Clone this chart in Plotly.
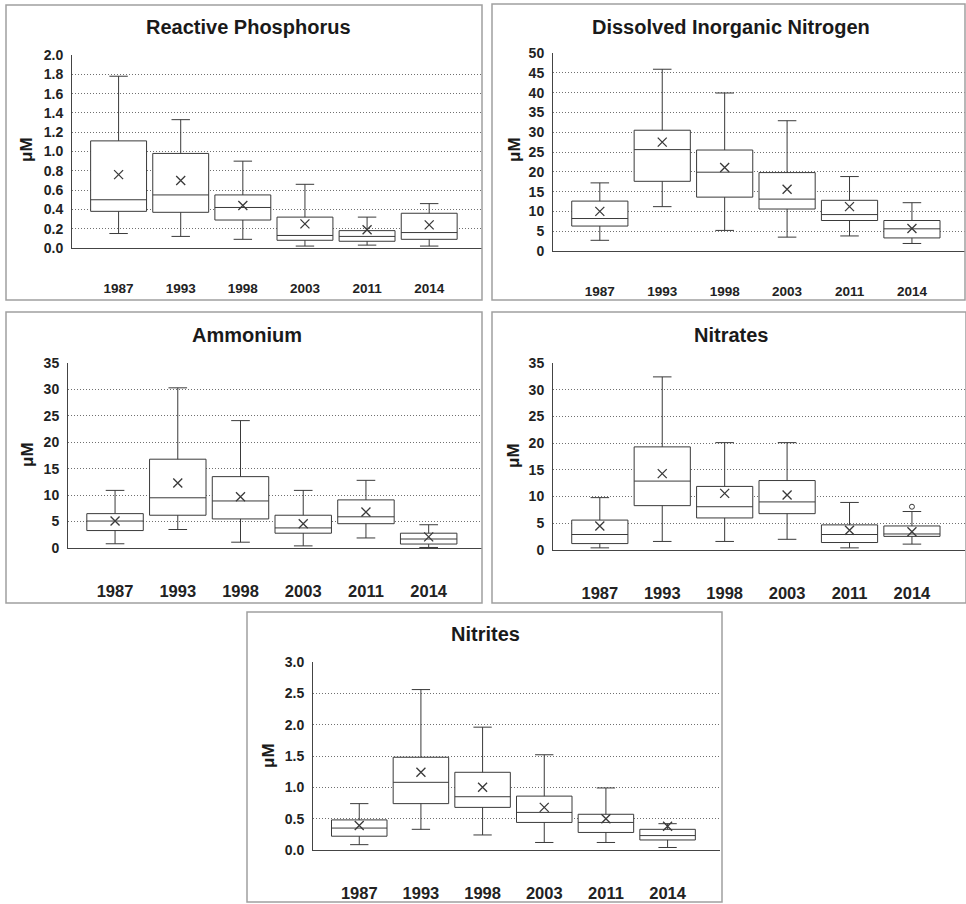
import plotly.graph_objects as go

years = ["1987", "1993", "1998", "2003", "2011", "2014"]

# Reactive Phosphorus (uM)
rp_low = [0.15, 0.12, 0.09, 0.02, 0.03, 0.02]
rp_q1 = [0.38, 0.37, 0.29, 0.08, 0.07, 0.09]
rp_med = [0.50, 0.55, 0.42, 0.13, 0.12, 0.16]
rp_q3 = [1.11, 0.98, 0.55, 0.32, 0.18, 0.36]
rp_high = [1.78, 1.33, 0.90, 0.66, 0.32, 0.46]
rp_mean = [0.76, 0.70, 0.44, 0.25, 0.19, 0.24]

# Dissolved Inorganic Nitrogen
din_low = [2.7, 11.2, 5.2, 3.5, 3.8, 1.9]
din_q1 = [6.3, 17.6, 13.6, 10.6, 7.7, 3.3]
din_med = [8.2, 25.6, 19.9, 13.1, 9.2, 5.6]
din_q3 = [12.6, 30.5, 25.5, 19.8, 12.8, 7.7]
din_high = [17.2, 45.9, 39.9, 32.9, 18.8, 12.2]
din_mean = [10.0, 27.5, 21.1, 15.6, 11.2, 5.7]

# Ammonium
nh4_low = [0.8, 3.5, 1.1, 0.4, 1.9, 0.1]
nh4_q1 = [3.3, 6.2, 5.5, 2.8, 4.6, 0.75]
nh4_med = [5.1, 9.5, 8.9, 3.8, 5.9, 1.7]
nh4_q3 = [6.5, 16.8, 13.5, 6.2, 9.1, 2.8]
nh4_high = [10.9, 30.3, 24.1, 10.9, 12.8, 4.4]
nh4_mean = [5.1, 12.3, 9.7, 4.6, 6.8, 2.1]

# Nitrates
no3_low = [0.4, 1.6, 1.6, 2.0, 0.4, 1.1]
no3_q1 = [1.2, 8.3, 6.0, 6.8, 1.4, 2.55]
no3_med = [2.9, 12.9, 8.1, 9.0, 2.9, 3.0]
no3_q3 = [5.6, 19.3, 11.9, 13.0, 4.7, 4.5]
no3_high = [9.8, 32.4, 20.1, 20.1, 8.9, 7.2]
no3_mean = [4.5, 14.3, 10.6, 10.3, 3.7, 3.4]
no3_outlier_year = ["2014"]
no3_outlier = [8.1]

# Nitrites
no2_low = [0.085, 0.33, 0.24, 0.12, 0.12, 0.04]
no2_q1 = [0.22, 0.74, 0.68, 0.44, 0.28, 0.16]
no2_med = [0.35, 1.08, 0.85, 0.60, 0.44, 0.23]
no2_q3 = [0.48, 1.48, 1.24, 0.86, 0.57, 0.33]
no2_high = [0.74, 2.56, 1.96, 1.52, 0.99, 0.42]
no2_mean = [0.39, 1.24, 1.00, 0.68, 0.50, 0.38]

W, H = 966, 904
def fx(p):
    return p / W
def fy(p):
    return 1 - p / H

# frame, plot area (left, top, right, bottom px), title centre, uM centre
panels = [
    dict(name="Reactive Phosphorus", stats=(rp_low, rp_q1, rp_med, rp_q3, rp_high, rp_mean),
         frame=(6, 5, 482, 300), plot=(72, 55, 482, 248), yr=2.0, dtick=0.2, fmt=".1f",
         xfs=13.5, title=(248, 27), mu=(27, 150)),
    dict(name="Dissolved Inorganic Nitrogen", stats=(din_low, din_q1, din_med, din_q3, din_high, din_mean),
         frame=(492, 4, 965, 300), plot=(553, 53, 965, 251), yr=50, dtick=5, fmt="d",
         xfs=13.5, title=(731, 27), mu=(515, 150)),
    dict(name="Ammonium", stats=(nh4_low, nh4_q1, nh4_med, nh4_q3, nh4_high, nh4_mean),
         frame=(6, 312, 482, 603), plot=(68, 363, 482, 548), yr=35, dtick=5, fmt="d",
         xfs=16.5, title=(247, 335), mu=(27, 455)),
    dict(name="Nitrates", stats=(no3_low, no3_q1, no3_med, no3_q3, no3_high, no3_mean),
         frame=(492, 312, 966, 603), plot=(553, 363, 965, 550), yr=35, dtick=5, fmt="d",
         xfs=16.5, title=(731, 335), mu=(513, 456)),
    dict(name="Nitrites", stats=(no2_low, no2_q1, no2_med, no2_q3, no2_high, no2_mean),
         frame=(247, 612, 722, 902), plot=(313, 662, 720, 850), yr=3.0, dtick=0.5, fmt=".1f",
         xfs=16.5, title=(485, 634), mu=(268, 756)),
]

FONT = "Arial, Liberation Sans, sans-serif"
fig = go.Figure()
shapes = []
annotations = []

for i, p in enumerate(panels, start=1):
    sfx = "" if i == 1 else str(i)
    low, q1, med, q3, high, mean = p["stats"]
    fig.add_trace(go.Box(
        x=years, lowerfence=low, q1=q1, median=med, q3=q3, upperfence=high,
        width=0.9, whiskerwidth=0.33, fillcolor="white",
        line=dict(color="#3a3a3a", width=1), boxpoints=False, hoverinfo="skip",
        xaxis="x" + sfx, yaxis="y" + sfx, showlegend=False))
    fig.add_trace(go.Scatter(
        x=years, y=mean, mode="markers",
        marker=dict(symbol="x-thin", size=9, line=dict(color="#3a3a3a", width=1.3)),
        xaxis="x" + sfx, yaxis="y" + sfx, showlegend=False))
    if i == 4:
        fig.add_trace(go.Scatter(
            x=no3_outlier_year, y=no3_outlier, mode="markers",
            marker=dict(symbol="circle-open", size=5, color="#3a3a3a", line=dict(width=1)),
            xaxis="x4", yaxis="y4", showlegend=False))

    l, t, r, b = p["plot"]
    fig.layout["xaxis" + sfx] = dict(
        domain=[fx(l), fx(r)], anchor="y" + sfx, type="category", automargin=False,
        range=[-0.75, 5.85], showgrid=False, showline=True, linecolor="#444", linewidth=1,
        ticks="", ticklabelstandoff=28,
        tickfont=dict(family=FONT, size=p["xfs"], color="#222", weight="bold"))
    fig.layout["yaxis" + sfx] = dict(
        domain=[fy(b), fy(t)], anchor="x" + sfx, range=[0, p["yr"]], automargin=False,
        dtick=p["dtick"], tickformat=p["fmt"], showgrid=True, gridcolor="#707070",
        griddash="1px,2px", gridwidth=1, zeroline=False, showline=True, linecolor="#444",
        linewidth=1, ticks="", ticklabelstandoff=5,
        tickfont=dict(family=FONT, size=14, color="#222", weight="bold"))

    fl, ft, fr, fb = p["frame"]
    shapes.append(dict(type="rect", xref="paper", yref="paper",
                       x0=fx(fl), x1=fx(fr), y0=fy(fb), y1=fy(ft),
                       line=dict(color="#a0a0a0", width=1.5)))
    annotations.append(dict(text=p["name"], xref="paper", yref="paper",
                            x=fx(p["title"][0]), y=fy(p["title"][1]),
                            xanchor="center", yanchor="middle", showarrow=False,
                            font=dict(family=FONT, size=20, color="#1a1a1a", weight="bold")))
    annotations.append(dict(text="μM", xref="paper", yref="paper",
                            x=fx(p["mu"][0]), y=fy(p["mu"][1]), textangle=-90,
                            xanchor="center", yanchor="middle", showarrow=False,
                            font=dict(family=FONT, size=17, color="#1a1a1a", weight="bold")))

fig.update_layout(
    width=W, height=H, margin=dict(l=0, r=0, t=0, b=0, autoexpand=False),
    paper_bgcolor="white", plot_bgcolor="white",
    shapes=shapes, annotations=annotations, showlegend=False)

# pin the figure to the page corner so the body margin does not shift it
pin = ("document.body.style.margin='0';"
       "var d=document.getElementById('{plot_id}');"
       "d.style.position='absolute';d.style.left='0';d.style.top='0';")
fig.write_html("out.html", post_script=pin, config={"displayModeBar": False})
